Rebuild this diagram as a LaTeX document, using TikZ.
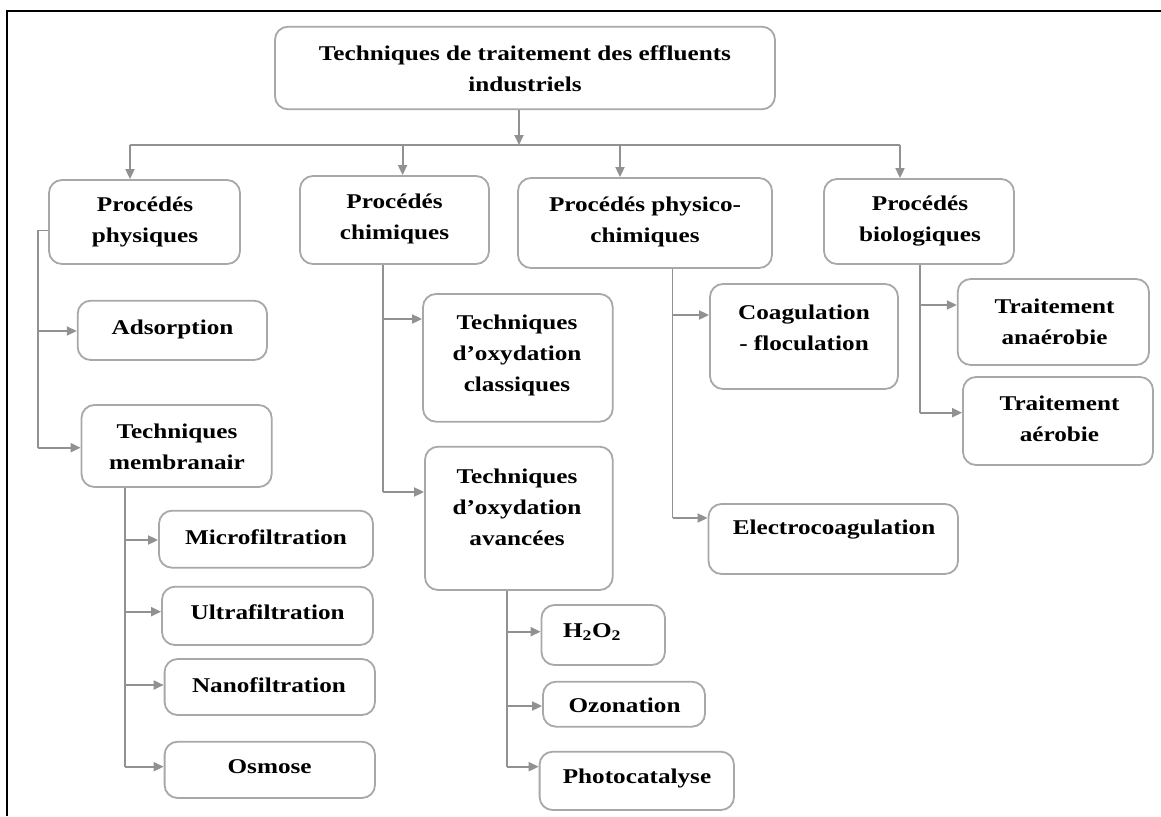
\documentclass[tikz,border=0pt]{standalone}
\usepackage{fontspec}
\setmainfont{Liberation Serif}[FakeStretch=1.2]
\usetikzlibrary{arrows.meta}
\definecolor{lngray}{RGB}{145,145,145}
\definecolor{boxgray}{RGB}{168,168,168}
\tikzset{
  bx/.style={draw=boxgray, line width=1.8pt, rounded corners=13pt, fill=white, inner sep=0pt},
  txt/.style={font=\fontsize{21}{31}\selectfont\bfseries, align=center, inner sep=0pt, text=black},
  ln/.style={draw=lngray, line width=1.8pt},
  arr/.style={draw=lngray, line width=1.8pt, -{Triangle[length=10pt,width=9pt]}},
}
\newcommand\mybox[5]{\node[bx, minimum width={#4-#2}, minimum height={#5-#3}] (#1) at ({(#2+#4)/2},{(#3+#5)/2}) {};}
\begin{document}
\begin{tikzpicture}[x=1pt,y=-1pt]
\useasboundingbox (0,0) rectangle (1161,816);
% frame (top and left only)
\draw[black, line width=2pt] (6.7,816) -- (6.7,11) -- (1161,11);

% boxes
\mybox{top}{275}{26.7}{775}{109.3}
\mybox{phys}{49}{180}{240}{264}
\mybox{chim}{300}{176}{489}{264}
\mybox{pc}{518}{178}{772}{268}
\mybox{bio}{824}{179}{1014}{264}
\mybox{ads}{77.7}{300.7}{267}{360}
\mybox{mem}{81.5}{405}{271.7}{487}
\mybox{micro}{159}{510.7}{373}{567.7}
\mybox{ultra}{162}{586.7}{373}{645}
\mybox{nano}{164.6}{659}{375}{715}
\mybox{osm}{164.6}{741.7}{375}{798}
\mybox{toc}{423}{294}{612.7}{421.7}
\mybox{toa}{425}{446.7}{612.7}{590}
\mybox{hho}{541.5}{605}{665}{665}
\mybox{ozo}{543}{681.7}{705}{726.7}
\mybox{pho}{539.6}{751.7}{734}{810}
\mybox{coag}{710}{284}{898}{389}
\mybox{elec}{708.5}{504}{958}{574}
\mybox{anae}{957.7}{279}{1149}{365}
\mybox{aero}{963}{377}{1153}{465}

% texts
\node[txt] (ttop) at (525,68.5) {Techniques de traitement des effluents\\industriels};
\node[txt] (tphys) at (145,222) {Procédés\\physiques};
\node[txt] (tchim) at (394.5,218.5) {Procédés\\chimiques};
\node[txt] (tpc) at (645,222) {Procédés physico-\\chimiques};
\node[txt] (tbio) at (920,221.5) {Procédés\\biologiques};
\node[txt] (tads) at (172.5,329) {Adsorption};
\node[txt] (tmem) at (177,447) {Techniques\\membranair};
\node[txt] (tmicro) at (266,537) {Microfiltration};
\node[txt] (tultra) at (267.7,612) {Ultrafiltration};
\node[txt] (tnano) at (269,685) {Nanofiltration};
\node[txt] (tosm) at (269.6,767) {Osmose};
\node[txt] (ttoc) at (517,355) {Techniques\\d’oxydation\\classiques};
\node[txt] (ttoa) at (517,507) {Techniques\\d’oxydation\\avancées};
\node[txt] (thho) at (592,632) {H\textsubscript{2}O\textsubscript{2}};
\node[txt] (tozo) at (624.5,705) {Ozonation};
\node[txt] (tpho) at (637,778) {Photocatalyse};
\node[txt] (tcoag) at (804,328) {Coagulation\\- floculation};
\node[txt] (telec) at (834,530) {Electrocoagulation};
\node[txt] (tanae) at (1054.5,322) {Traitement\\anaérobie};
\node[txt] (taero) at (1059.5,418.5) {Traitement\\aérobie};

% junction coordinates
\coordinate (hubC) at (519,145);
\coordinate (hubL) at (130,145);
\coordinate (hubCh) at (402.6,145);
\coordinate (hubPc) at (620,145);
\coordinate (hubR) at (900,145);

\coordinate (physJ) at (38,230.5);
\coordinate (adsA) at (38,331);
\coordinate (memA) at (38,447.7);

\coordinate (microA) at (125,540);
\coordinate (ultraA) at (125,611.7);
\coordinate (nanoA) at (125,685);
\coordinate (osmA) at (125,766.7);

\coordinate (tocA) at (383,319);
\coordinate (toaA) at (383,492);

\coordinate (hhoA) at (507,631.7);
\coordinate (ozoA) at (507,706);
\coordinate (phoA) at (507,766.7);

\coordinate (coagA) at (672.5,315);
\coordinate (elecA) at (672.5,518);

\coordinate (anaeA) at (920,305);
\coordinate (aeroA) at (920,412.7);

% connectors level 0 -> 1
\draw[arr] (top.south -| hubC) -- (hubC);
\draw[ln] (hubL) -- (hubR);
\draw[arr] (hubL) -- (phys.north -| hubL);
\draw[arr] (hubCh) -- (chim.north -| hubCh);
\draw[arr] (hubPc) -- (pc.north -| hubPc);
\draw[arr] (hubR) -- (bio.north -| hubR);

% physiques
\draw[ln] (phys.west |- physJ) -- (physJ) -- (memA);
\draw[arr] (adsA) -- (ads.west |- adsA);
\draw[arr] (memA) -- (mem.west |- memA);

% membranair
\draw[ln] (mem.south -| osmA) -- (osmA);
\draw[arr] (microA) -- (micro.west |- microA);
\draw[arr] (ultraA) -- (ultra.west |- ultraA);
\draw[arr] (nanoA) -- (nano.west |- nanoA);
\draw[arr] (osmA) -- (osm.west |- osmA);

% chimiques
\draw[ln] (chim.south -| toaA) -- (toaA);
\draw[arr] (tocA) -- (toc.west |- tocA);
\draw[arr] (toaA) -- (toa.west |- toaA);

% avancees
\draw[ln] (toa.south -| phoA) -- (phoA);
\draw[arr] (hhoA) -- (hho.west |- hhoA);
\draw[arr] (ozoA) -- (ozo.west |- ozoA);
\draw[arr] (phoA) -- (pho.west |- phoA);

% physico-chimiques
\draw[ln] (pc.south -| elecA) -- (elecA);
\draw[arr] (coagA) -- (coag.west |- coagA);
\draw[arr] (elecA) -- (elec.west |- elecA);

% biologiques
\draw[ln] (bio.south -| aeroA) -- (aeroA);
\draw[arr] (anaeA) -- (anae.west |- anaeA);
\draw[arr] (aeroA) -- (aero.west |- aeroA);
\end{tikzpicture}
\end{document}
